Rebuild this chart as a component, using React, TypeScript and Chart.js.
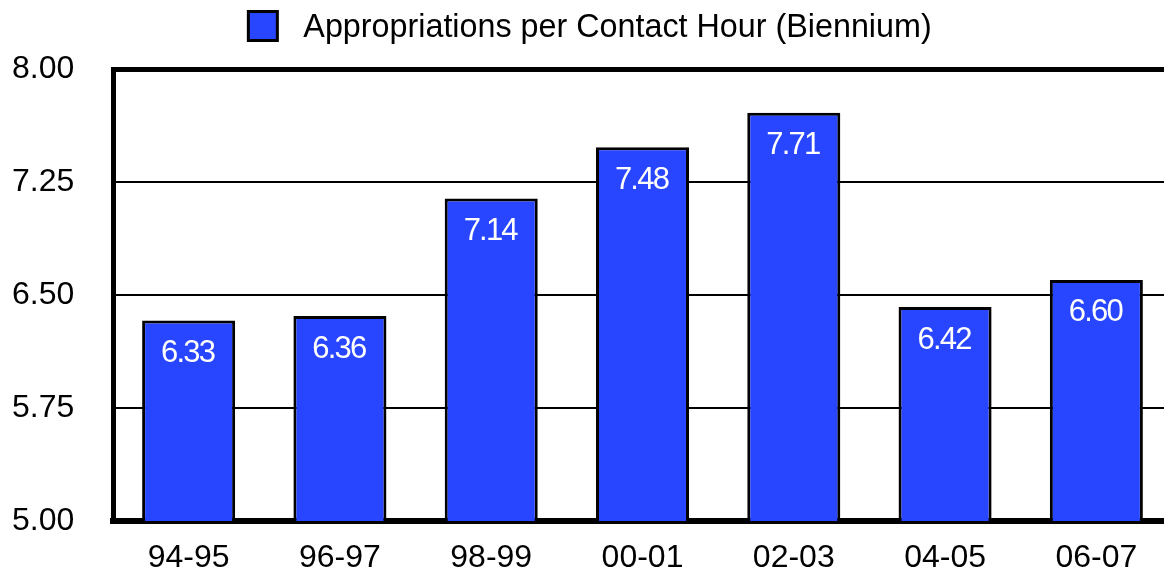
import React, { useEffect, useRef } from "react";
import { Chart, registerables } from "chart.js";

Chart.register(...registerables);

const categories = ["94-95", "96-97", "98-99", "00-01", "02-03", "04-05", "06-07"];
const values = [6.33, 6.36, 7.14, 7.48, 7.71, 6.42, 6.6];
const seriesLabel = "Appropriations per Contact Hour (Biennium)";
const yMin = 5;
const yMax = 8;
const yStep = 0.75;

const FONT = "'Liberation Sans', Arial, Helvetica, sans-serif";
const BLUE = "#2846FF";

const valueLabelPlugin = {
  id: "valueLabels",
  afterDatasetsDraw(chart: any) {
    const ctx = chart.ctx;
    const meta = chart.getDatasetMeta(0);
    ctx.save();
    ctx.fillStyle = "#ffffff";
    ctx.font = `31px ${FONT}`;
    try { (ctx as any).letterSpacing = "-1.8px"; } catch (e) {}
    ctx.textAlign = "center";
    ctx.textBaseline = "middle";
    meta.data.forEach((bar: any, i: number) => {
      ctx.fillText(values[i].toFixed(2), bar.x - 1, bar.y + 33);
    });
    ctx.restore();
  },
};

const legendPlugin = {
  id: "customLegend",
  afterDraw(chart: any) {
    const ctx = chart.ctx;
    ctx.save();
    ctx.font = `32.3px ${FONT}`;
    const tw = ctx.measureText(seriesLabel).width;
    const box = 29;
    const gap = 26;
    const total = box + gap + tw;
    const x0 = (chart.width - total) / 2 + 4;
    const yc = 26;
    ctx.fillStyle = BLUE;
    ctx.fillRect(x0, yc - box / 2, box, box);
    ctx.strokeStyle = "#000000";
    ctx.lineWidth = 3;
    ctx.strokeRect(x0, yc - box / 2, box, box);
    ctx.fillStyle = "#000000";
    ctx.textAlign = "left";
    ctx.textBaseline = "middle";
    ctx.fillText(seriesLabel, x0 + box + gap, yc + 2);
    ctx.restore();
  },
};

export default function App() {
  const ref = useRef<HTMLCanvasElement | null>(null);
  useEffect(() => {
    document.body.style.margin = "0";
    document.body.style.overflow = "hidden";
    const chart = new Chart(ref.current as HTMLCanvasElement, {
      type: "bar",
      data: {
        labels: categories,
        datasets: [
          {
            label: seriesLabel,
            data: values,
            backgroundColor: BLUE,
            borderColor: "#000000",
            borderWidth: 3,
            borderSkipped: false,
            barPercentage: 0.615,
            categoryPercentage: 1,
          },
        ],
      },
      options: {
        responsive: true,
        animation: false,
        maintainAspectRatio: false,
        layout: { autoPadding: false, padding: { left: 12, right: 0, top: 69, bottom: 0 } },
        plugins: {
          tooltip: { enabled: false },
          legend: { display: false },
        },
        scales: {
          x: {
            grid: { display: false, drawTicks: false },
            border: { display: true, color: "#000000", width: 6 },
            afterFit: (s: any) => { s.height = 50; },
            ticks: {
              color: "#000000",
              font: { family: FONT, size: 32 },
              padding: 18,
            },
          },
          y: {
            min: yMin,
            max: yMax,
            afterFit: (s: any) => { s.width = 101; },
            grid: {
              color: "#000000",
              lineWidth: (c: any) => (c.tick && c.tick.value === yMax ? 5 : c.tick && c.tick.value === yMin ? 6 : 2),
              drawTicks: false,
            },
            border: { display: true, color: "#000000", width: 5 },
            ticks: {
              stepSize: yStep,
              color: "#000000",
              font: { family: FONT, size: 32 },
              padding: 0,
              crossAlign: "far",
              callback: (v: any) => Number(v).toFixed(2),
            },
          },
        },
      },
      plugins: [valueLabelPlugin, legendPlugin],
    });
    return () => chart.destroy();
  }, []);
  return (
    <div style={{ position: "fixed", left: 0, top: 0, width: 1172, height: 571 }}>
      <canvas ref={ref} />
    </div>
  );
}
